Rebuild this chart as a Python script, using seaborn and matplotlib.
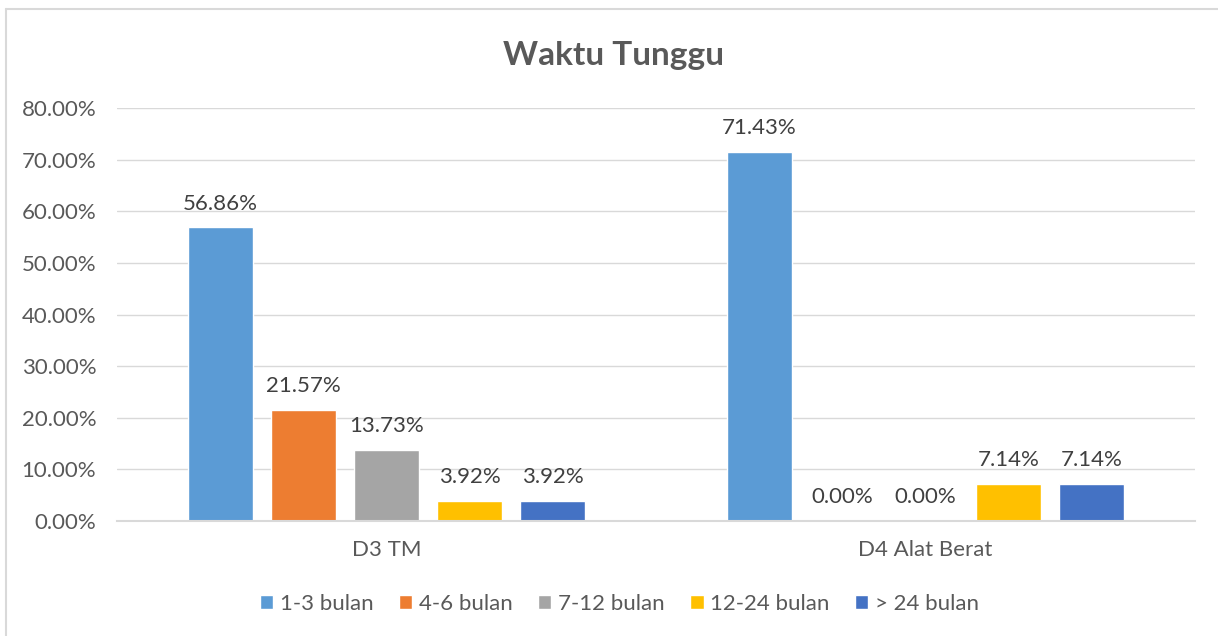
"""Waktu Tunggu: grouped bar chart (Excel style) redone with seaborn."""

import matplotlib
matplotlib.use("Agg")
import matplotlib.pyplot as plt
from matplotlib.lines import Line2D
import pandas as pd
import seaborn as sns

programs = ["D3 TM", "D4 Alat Berat"]
durations = ["1-3 bulan", "4-6 bulan", "7-12 bulan", "12-24 bulan", "> 24 bulan"]
d3_tm = [56.86, 21.57, 13.73, 3.92, 3.92]
d4_alat_berat = [71.43, 0.00, 0.00, 7.14, 7.14]
colors = ["#5b9bd5", "#ed7d31", "#a5a5a5", "#ffc000", "#4472c4"]
yticks = [0, 10, 20, 30, 40, 50, 60, 70, 80]

rows = []
for prog, vals in zip(programs, [d3_tm, d4_alat_berat]):
    for dur, v in zip(durations, vals):
        rows.append({"program": prog, "durasi": dur, "persen": v / 100})
df = pd.DataFrame(rows)

sns.set_style("white")
plt.rcParams["font.family"] = ["Lato", "DejaVu Sans"]
text_color = "#595959"
grid_color = "#d9d9d9"
fs = 16

fig = plt.figure(figsize=(12.18, 6.36), dpi=100)
ax = fig.add_axes([0.0961, 0.1808, 0.885, 0.6494])

sns.barplot(data=df, x="program", y="persen", hue="durasi", order=programs,
            hue_order=durations, palette=colors, width=0.77, gap=0.21,
            saturation=1, ax=ax, legend=True)

for cont in ax.containers:
    ax.bar_label(cont, labels=[f"{b.get_height() * 100:.2f}%" for b in cont],
                 padding=10, fontsize=fs, color="#404040")

ax.set_ylim(0, 0.8)
ax.set_xlim(-0.5, 1.5)
ax.set_yticks([t / 100 for t in yticks])
ax.set_yticklabels([f"{t:.2f}%" for t in yticks])
ax.tick_params(axis="both", length=0, labelsize=fs, labelcolor=text_color)
ax.tick_params(axis="y", pad=15)
ax.tick_params(axis="x", pad=14)
ax.set_xlabel("")
ax.set_ylabel("")
ax.set_axisbelow(True)
ax.yaxis.grid(True, color=grid_color, linewidth=1)
for side in ["top", "right", "left"]:
    ax.spines[side].set_visible(False)
ax.spines["bottom"].set_color(grid_color)
ax.spines["bottom"].set_linewidth(1.5)

fig.text(0.504, 0.9135, "Waktu Tunggu", ha="center", va="center",
         fontsize=24, fontweight="bold", color=text_color)

handles, labels = ax.get_legend_handles_labels()
ax.legend(handles, labels, loc="center", bbox_to_anchor=(0.5085, 0.05),
          bbox_transform=fig.transFigure, ncol=5, frameon=False, fontsize=fs,
          labelcolor=text_color, handlelength=0.6, handleheight=0.6,
          handletextpad=0.3, columnspacing=1.15)

# thin chart frame, only the top and left edges show in the picture
fig.add_artist(Line2D([0.0049, 0.0049], [0, 0.986], color=grid_color,
                      linewidth=1.5, transform=fig.transFigure))
fig.add_artist(Line2D([0.0049, 1], [0.986, 0.986], color=grid_color,
                      linewidth=1.5, transform=fig.transFigure))

fig.savefig("out.png", dpi=100)
